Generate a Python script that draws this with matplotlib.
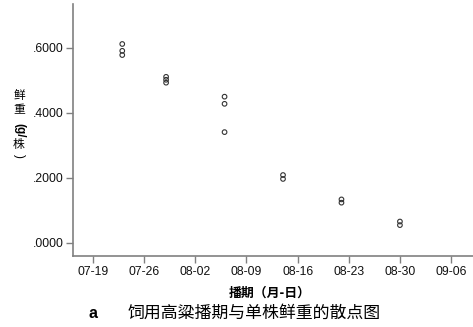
import matplotlib
matplotlib.use("Agg")
import matplotlib.pyplot as plt
import matplotlib.dates as mdates
import numpy as np
import datetime as dt

plt.rcParams['font.family'] = ['Liberation Sans', 'Noto Sans CJK SC', 'DejaVu Sans']

# Data
sow_dates = ["07-23"] * 3 + ["07-29"] * 3 + ["08-06"] * 3 + ["08-14"] * 2 + ["08-22"] * 2 + ["08-30"] * 2
fresh_weight = [0.612, 0.591, 0.578,
                0.511, 0.502, 0.493,
                0.450, 0.428, 0.341,
                0.209, 0.197,
                0.134, 0.124,
                0.066, 0.055]
x_ticks = ["07-19", "07-26", "08-02", "08-09", "08-16", "08-23", "08-30", "09-06"]
y_ticks = [0.0, 0.2, 0.4, 0.6]
y_tick_labels = [".0000", ".2000", ".4000", ".6000"]

YEAR = 2013
def to_num(s):
    m, d = s.split("-")
    return mdates.date2num(dt.date(YEAR, int(m), int(d)))

xs = [to_num(s) for s in sow_dates]
xt = [to_num(s) for s in x_ticks]

W, H = 473, 327
fig = plt.figure(figsize=(W / 100, H / 100), dpi=100)
ax = fig.add_axes([73 / W, (H - 256) / H, 400 / W, (256 - 4) / H])

ax.scatter(xs, fresh_weight, s=11, facecolors='none', edgecolors='#333333', linewidths=0.8, zorder=3)

x0 = xt[0]
ax.set_xlim(x0 - 2.74, x0 + 52.0)
ax.set_ylim(-0.04, 0.735)
ax.set_xticks(xt)
ax.set_xticklabels(x_ticks)
ax.set_yticks(y_ticks)
ax.set_yticklabels(y_tick_labels)

for sp in ['top', 'right']:
    ax.spines[sp].set_visible(False)
for sp in ['left', 'bottom']:
    ax.spines[sp].set_color('#808080')
    ax.spines[sp].set_linewidth(1.2)
ax.tick_params(axis='both', direction='out', length=5, width=1.0, color='#808080',
               labelsize=8.8, labelcolor='#111111', pad=2)

cjk = ['Noto Sans CJK SC', 'DejaVu Sans']
# vertical y-label (stacked, Latin parts rotated)
xl = 19 / W
fig.text(xl, 1 - 96 / H, "鲜", family=cjk, fontsize=8.5, ha='center', va='center')
fig.text(xl, 1 - 110 / H, "重", family=cjk, fontsize=8.5, ha='center', va='center')
fig.text(xl, 1 - 130 / H, "(g/", fontsize=8.5, ha='center', va='center', rotation=-90, fontweight='bold')
fig.text(xl, 1 - 145 / H, "株", family=cjk, fontsize=8.5, ha='center', va='center')
fig.text(xl, 1 - 156 / H, ")", fontsize=8.5, ha='center', va='center', rotation=-90)

fig.text(270 / W, 1 - 293 / H, "播期（月-日）", family=cjk, fontsize=9.3, ha='center', va='center', fontweight='semibold')
fig.text(93 / W, 1 - 314 / H, "a", fontsize=11.5, ha='center', va='center', fontweight='bold')
fig.text(128 / W, 1 - 313 / H, "饲用高粱播期与单株鲜重的散点图", family=cjk, fontsize=12.2, ha='left', va='center')

fig.savefig("out.png", dpi=100)
